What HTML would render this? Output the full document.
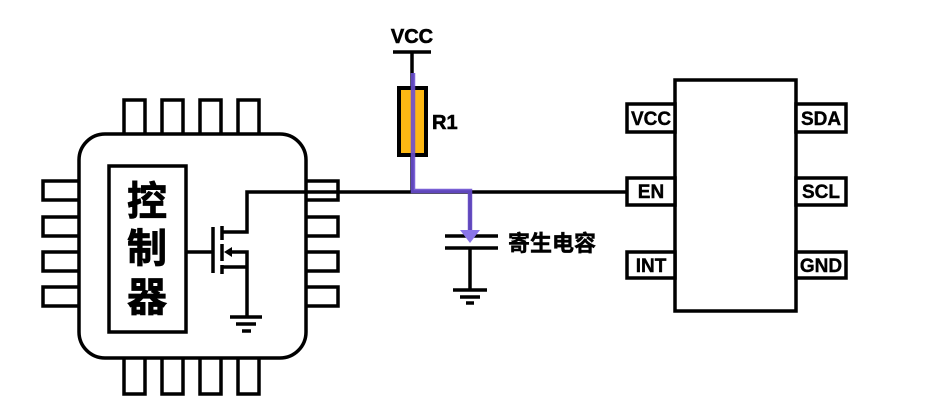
<!DOCTYPE html>
<html><head><meta charset="utf-8"><style>html,body{margin:0;padding:0;background:#fff}svg{display:block}</style></head>
<body>
<svg width="925" height="404" viewBox="0 0 925 404" xmlns="http://www.w3.org/2000/svg" font-family="'Liberation Sans','Noto Sans CJK SC',sans-serif" font-weight="bold">
<g fill="#fff" stroke="#000" stroke-width="3.5">
<rect x="124" y="100" width="21" height="35"/><rect x="162" y="100" width="21" height="35"/><rect x="200" y="100" width="21" height="35"/><rect x="238" y="100" width="21" height="35"/>
<rect x="124" y="356" width="21" height="38"/><rect x="162" y="356" width="21" height="38"/><rect x="200" y="356" width="21" height="38"/><rect x="238" y="356" width="21" height="38"/>
<rect x="43" y="181" width="37" height="19"/><rect x="43" y="217" width="37" height="19"/><rect x="43" y="252" width="37" height="19"/><rect x="43" y="287" width="37" height="19"/>
<rect x="305" y="181" width="33" height="19"/><rect x="305" y="217" width="33" height="19"/><rect x="305" y="252" width="33" height="19"/><rect x="305" y="287" width="33" height="19"/>
<rect x="79" y="134" width="227" height="224" rx="26"/>
<rect x="109" y="166" width="77" height="166"/>
</g>
<g font-size="40" text-anchor="middle" fill="#000" stroke="#000" stroke-width="0.8"><text x="147" y="215">控</text><text x="147" y="262">制</text><text x="147" y="311">器</text></g>
<g stroke="#000" stroke-width="3.5" fill="none">
<line x1="186" y1="252" x2="213" y2="252"/>
<line x1="213" y1="227" x2="213" y2="273"/>
<line x1="222" y1="226" x2="222" y2="240"/><line x1="222" y1="244" x2="222" y2="261"/><line x1="222" y1="265" x2="222" y2="274"/>
<polyline points="222,232 247,232 247,192 626,192"/>
<polyline points="230,252 247,252 247,317"/>
<line x1="222" y1="267" x2="247" y2="267"/>
<line x1="230" y1="317" x2="262" y2="317"/><line x1="236" y1="324" x2="256" y2="324"/><line x1="242" y1="331" x2="251" y2="331"/>
<line x1="393" y1="52" x2="431" y2="52"/><line x1="412" y1="52" x2="412" y2="88"/>
<line x1="412" y1="155" x2="412" y2="192"/>
<line x1="445" y1="236" x2="498" y2="236"/><line x1="445" y1="248" x2="498" y2="248"/>
<line x1="470" y1="192" x2="470" y2="236"/><line x1="470" y1="248" x2="470" y2="290"/>
<line x1="453" y1="290" x2="487" y2="290"/><line x1="460" y1="297" x2="480" y2="297"/><line x1="466" y1="303" x2="474" y2="303"/>
</g>
<polygon points="224,252 232,247 232,257" fill="#000"/>
<rect x="399" y="88" width="27" height="67" fill="#FDB813" stroke="#000" stroke-width="4"/>
<polyline points="413,73 413,191 470,191 470,232" fill="none" stroke="#6A4FD0" stroke-width="4.5" opacity="0.9"/>
<polygon points="460,230 480,230 470,243" fill="#8A75E8"/>
<g font-size="20" fill="#000" stroke="#000" stroke-width="0.6"><text x="412" y="43" text-anchor="middle">VCC</text><text x="432" y="129">R1</text></g>
<text x="508" y="251" font-size="22" fill="#000" stroke="#000" stroke-width="0.5">寄生电容</text>
<g fill="#fff" stroke="#000" stroke-width="3.5">
<rect x="675" y="80" width="121" height="231"/>
<rect x="627" y="104" width="48" height="28"/><rect x="627" y="178" width="48" height="27"/><rect x="627" y="252" width="48" height="26"/>
<rect x="796" y="104" width="50" height="28"/><rect x="796" y="178" width="50" height="27"/><rect x="796" y="252" width="50" height="26"/>
</g>
<g font-size="19" fill="#000" text-anchor="middle" stroke="#000" stroke-width="0.4">
<text x="651" y="125">VCC</text><text x="651" y="198">EN</text><text x="651" y="272">INT</text>
<text x="821" y="125">SDA</text><text x="821" y="198">SCL</text><text x="821" y="272">GND</text>
</g>
</svg>
</body></html>
